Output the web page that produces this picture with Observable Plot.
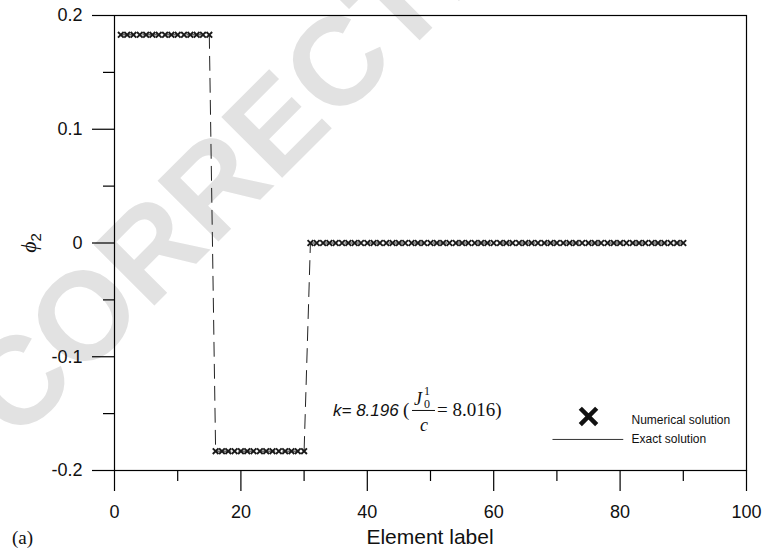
<!DOCTYPE html>
<html><head><meta charset="utf-8">
<script src="https://cdn.jsdelivr.net/npm/d3@7"></script>
<script src="https://cdn.jsdelivr.net/npm/@observablehq/plot@0.6"></script>
<style>
body{margin:0;background:#fff}
#chart{width:765px;height:549px}
</style>
</head><body><div id="chart"></div>
<script>
// ---- data ----
const elementLabel = [
  1,2,3,4,5,6,7,8,9,10,11,12,13,14,15,
  16,17,18,19,20,21,22,23,24,25,26,27,28,29,30,
  31,32,33,34,35,36,37,38,39,40,41,42,43,44,45,46,47,48,49,50,
  51,52,53,54,55,56,57,58,59,60,61,62,63,64,65,66,67,68,69,70,
  71,72,73,74,75,76,77,78,79,80,81,82,83,84,85,86,87,88,89,90
];
const phiNumerical = [
  0.183,0.183,0.183,0.183,0.183,0.183,0.183,0.183,0.183,0.183,0.183,0.183,0.183,0.183,0.183,
  -0.183,-0.183,-0.183,-0.183,-0.183,-0.183,-0.183,-0.183,-0.183,-0.183,-0.183,-0.183,-0.183,-0.183,-0.183,
  0,0,0,0,0,0,0,0,0,0,0,0,0,0,0,0,0,0,0,0,
  0,0,0,0,0,0,0,0,0,0,0,0,0,0,0,0,0,0,0,0,
  0,0,0,0,0,0,0,0,0,0,0,0,0,0,0,0,0,0,0,0
];
const phiExact = [
  0.183,0.183,0.183,0.183,0.183,0.183,0.183,0.183,0.183,0.183,0.183,0.183,0.183,0.183,0.183,
  -0.183,-0.183,-0.183,-0.183,-0.183,-0.183,-0.183,-0.183,-0.183,-0.183,-0.183,-0.183,-0.183,-0.183,-0.183,
  0,0,0,0,0,0,0,0,0,0,0,0,0,0,0,0,0,0,0,0,
  0,0,0,0,0,0,0,0,0,0,0,0,0,0,0,0,0,0,0,0,
  0,0,0,0,0,0,0,0,0,0,0,0,0,0,0,0,0,0,0,0
];
const xTicks = [0, 20, 40, 60, 80, 100];
const xTickLabels = ["0", "20", "40", "60", "80", "100"];
const xMinorTicks = [10, 30, 50, 70, 90];
const yTicks = [-0.2, -0.1, 0, 0.1, 0.2];
const yTickLabels = ["-0.2", "-0.1", "0", "0.1", "0.2"];
const yMinorTicks = [-0.15, -0.05, 0.05, 0.15];
const seriesNames = ["Numerical solution", "Exact solution"];
const kValue = "8.196";
const ratioValue = "8.016";
const xTitle = "Element label";
const panelTag = "(a)";
const watermark = "CORRECTED PROOF";

// ---- layout anchors (data units) ----
const legendAt = {markerX: 75, markerY: -0.1525, textX: 81.8, row1Y: -0.1555, row2Y: -0.1727, lineX1: 69.3, lineX2: 80.5};
const annotationAt = {x: 34.65, y: -0.1525};

const rows = elementLabel.map((e, i) => ({e, num: phiNumerical[i], exact: phiExact[i]}));
const sans = "'Liberation Sans', Arial, Helvetica, sans-serif";
const serif = "'Liberation Serif', 'Times New Roman', Times, serif";

const plot = Plot.plot({
  width: 765, height: 549,
  marginLeft: 114, marginRight: 19, marginTop: 15, marginBottom: 79,
  style: {fontFamily: sans, background: "transparent", color: "#111", overflow: "visible"},
  x: {domain: [0, 100]},
  y: {domain: [-0.2, 0.2]},
  marks: [
    Plot.line(rows, {x: "e", y: "exact", stroke: "#222", strokeWidth: 1, strokeDasharray: "14,8"}),
    Plot.dot(rows, {x: "e", y: "num", symbol: "times", r: 2.7, stroke: "#1a1a1a", strokeWidth: 1.9}),
    Plot.frame({stroke: "#000", strokeWidth: 1.2}),
    Plot.axisX(xTicks, {tickSize: 21, tickPadding: 14, fontSize: 18, label: null, stroke: "#000", strokeWidth: 1.2,
      tickFormat: d => xTickLabels[xTicks.indexOf(d)]}),
    Plot.axisX(xMinorTicks, {tickSize: 11, text: null, label: null, stroke: "#000", strokeWidth: 1.2}),
    Plot.axisY(yTicks, {tickSize: 22, tickPadding: 10, fontSize: 18, label: null, stroke: "#000", strokeWidth: 1.2,
      tickFormat: d => yTickLabels[yTicks.indexOf(d)]}),
    Plot.axisY(yMinorTicks, {tickSize: 11, text: null, label: null, stroke: "#000", strokeWidth: 1.2}),
    // legend
    Plot.dot([legendAt], {x: "markerX", y: "markerY", symbol: "times", r: 7.5, stroke: "#111", strokeWidth: 4.5}),
    Plot.link([legendAt], {x1: "lineX1", x2: "lineX2", y1: "row2Y", y2: "row2Y", stroke: "#333", strokeWidth: 1}),
    Plot.text([legendAt], {x: "textX", y: "row1Y", text: () => seriesNames[0], textAnchor: "start", fontSize: 12, fill: "#111"}),
    Plot.text([legendAt], {x: "textX", y: "row2Y", text: () => seriesNames[1], textAnchor: "start", fontSize: 12, fill: "#111"})
  ]
});
document.getElementById("chart").appendChild(plot);

const svg = d3.select(plot);
// watermark behind everything
svg.insert("text", ":first-child")
  .attr("transform", "translate(16,444) rotate(-45)")
  .attr("text-anchor", "start")
  .attr("font-family", sans).attr("font-weight", "bold").attr("font-size", 125)
  .attr("fill", "#e2e2e2").text(watermark);

// axis titles
svg.append("text").attr("x", 430).attr("y", 544).attr("text-anchor", "middle")
  .attr("font-family", sans).attr("font-size", 21).attr("fill", "#111").text(xTitle);
svg.append("text").attr("x", 12).attr("y", 544).attr("text-anchor", "start")
  .attr("font-family", serif).attr("font-size", 19).attr("fill", "#111").text(panelTag);
const yl = svg.append("text").attr("transform", "translate(36,243) rotate(-90)")
  .attr("text-anchor", "middle").attr("fill", "#111");
yl.append("tspan").attr("font-family", serif).attr("font-style", "italic").attr("font-size", 22).text("ϕ");
yl.append("tspan").attr("font-family", sans).attr("font-size", 15).attr("dy", 5).text("2");

// annotation k= ... (J0^1 / c = ...)
const sx = plot.scale("x"), sy = plot.scale("y");
const ax = sx.apply(annotationAt.x), ay = sy.apply(annotationAt.y);
const g = svg.append("g").attr("transform", `translate(${ax},${ay})`).attr("fill", "#111")
  .attr("text-anchor", "start");
g.append("text").attr("x", 0).attr("y", 0).attr("font-family", sans).attr("font-style", "italic")
  .attr("font-size", 17).text("k= " + kValue);
g.append("text").attr("x", 70).attr("y", 0).attr("font-family", serif).attr("font-size", 19).text("(");
g.append("text").attr("x", 81).attr("y", -11).attr("font-family", serif).attr("font-style", "italic")
  .attr("font-size", 18).text("J");
g.append("text").attr("x", 91).attr("y", -21).attr("font-family", serif).attr("font-size", 12).text("1");
g.append("text").attr("x", 91).attr("y", -8).attr("font-family", serif).attr("font-size", 12).text("0");
g.append("line").attr("x1", 79).attr("x2", 102).attr("y1", -5.5).attr("y2", -5.5).attr("stroke", "#111").attr("stroke-width", 1);
g.append("text").attr("x", 87).attr("y", 15).attr("font-family", serif).attr("font-style", "italic")
  .attr("font-size", 18).text("c");
g.append("text").attr("x", 104).attr("y", 0).attr("font-family", serif).attr("font-size", 19).text("= " + ratioValue + ")");
</script>
</body></html>
